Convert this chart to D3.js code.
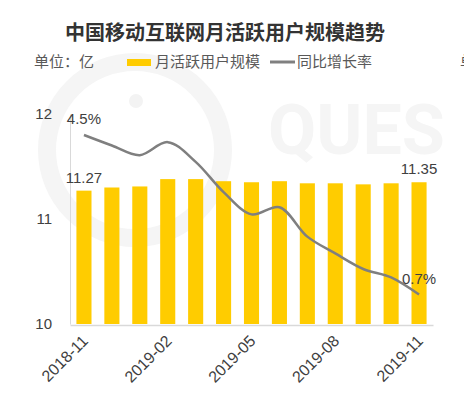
<!DOCTYPE html>
<html>
<head>
<meta charset="utf-8">
<script src="https://cdn.jsdelivr.net/npm/d3@7"></script>
<style>
  body { margin: 0; background: #fff; }
  svg { font-family: "Noto Sans CJK SC", "Noto Sans", sans-serif; }
</style>
</head>
<body>
<div id="chart"></div>
<script>
const months = ["2018-11","2018-12","2019-01","2019-02","2019-03","2019-04","2019-05",
                "2019-06","2019-07","2019-08","2019-09","2019-10","2019-11"];
const users = [11.27, 11.30, 11.31, 11.38, 11.38, 11.36, 11.35, 11.36, 11.34, 11.34, 11.33, 11.34, 11.35];
const growth = [4.5, 4.25, 4.02, 4.33, 3.86, 3.14, 2.61, 2.78, 2.08, 1.68, 1.31, 1.11, 0.7];
const shownMonths = ["2018-11","2019-02","2019-05","2019-08","2019-11"];
const yTicks = [10, 11, 12];

const width = 464, height = 395;
const plotLeft = 70, plotRight = 433, plotTop = 114, plotBottom = 324;

const svg = d3.select("#chart").append("svg")
  .attr("width", width)
  .attr("height", height);

// watermark
svg.append("circle")
  .attr("cx", 135).attr("cy", 150).attr("r", 88)
  .attr("fill", "none").attr("stroke", "#f5f5f5").attr("stroke-width", 18);
svg.append("circle")
  .attr("cx", 136).attr("cy", 101).attr("r", 7)
  .attr("fill", "#f3f3f3");
svg.append("text")
  .attr("x", 268).attr("y", 154)
  .style("font-family", "Roboto, sans-serif")
  .style("font-size", "70px")
  .style("font-weight", "bold")
  .attr("fill", "#f5f5f5")
  .text("QUES");

const x = d3.scaleBand()
  .domain(months)
  .range([plotLeft, plotRight])
  .paddingInner(0.46)
  .paddingOuter(0.23);

const y = d3.scaleLinear().domain([10, 12]).range([plotBottom, plotTop]);
const y2 = d3.scaleLinear().domain([0, 5]).range([plotBottom, plotTop]);

// title
svg.append("text")
  .attr("x", 225).attr("y", 40)
  .attr("text-anchor", "middle")
  .style("font-size", "20px")
  .style("font-weight", "bold")
  .attr("fill", "#333")
  .text("中国移动互联网月活跃用户规模趋势");

// legend
svg.append("text")
  .attr("x", 34).attr("y", 67)
  .style("font-size", "15px")
  .attr("fill", "#595959")
  .text("单位：亿");
svg.append("rect")
  .attr("x", 127).attr("y", 59).attr("width", 24).attr("height", 7)
  .attr("fill", "#ffcc00");
svg.append("text")
  .attr("x", 155).attr("y", 67)
  .style("font-size", "15px")
  .attr("fill", "#595959")
  .text("月活跃用户规模");
svg.append("line")
  .attr("x1", 270).attr("x2", 295).attr("y1", 62).attr("y2", 62)
  .attr("stroke", "#808080").attr("stroke-width", 3);
svg.append("text")
  .attr("x", 297).attr("y", 67)
  .style("font-size", "15px")
  .attr("fill", "#595959")
  .text("同比增长率");
svg.append("text")
  .attr("x", 460).attr("y", 67)
  .style("font-size", "15px")
  .attr("fill", "#595959")
  .text("单位");

// y axis
const yAxis = d3.axisLeft(y).tickValues(yTicks).tickFormat(d3.format("d")).tickSize(0).tickPadding(18);
const gy = svg.append("g")
  .attr("transform", `translate(${plotLeft},0)`)
  .call(yAxis);
gy.select(".domain").attr("stroke", "#d9d9d9");
gy.selectAll("text")
  .style("font-size", "15px")
  .style("font-family", "Liberation Sans, Arial, sans-serif")
  .attr("fill", "#404040");

// bars
svg.selectAll(".bar")
  .data(users)
  .enter()
  .append("rect")
  .attr("class", "bar")
  .attr("x", (d, i) => x(months[i]))
  .attr("y", d => y(d))
  .attr("width", x.bandwidth())
  .attr("height", d => y(10) - y(d))
  .attr("fill", "#ffcc00");

// x axis
const xAxis = d3.axisBottom(x).tickValues(shownMonths).tickSize(0).tickSizeOuter(0);
const gx = svg.append("g")
  .attr("transform", `translate(0,${plotBottom + 1})`)
  .call(xAxis);
gx.select(".domain").attr("stroke", "#d9d9d9").attr("stroke-width", 1.5);
gx.selectAll("text")
  .style("font-size", "16px")
  .style("font-family", "Liberation Sans, Arial, sans-serif")
  .attr("fill", "#404040")
  .attr("text-anchor", "end")
  .attr("y", 0)
  .attr("dy", 0)
  .attr("transform", "translate(5,17) rotate(-45)");

// growth line
const line = d3.line()
  .x((d, i) => x(months[i]) + x.bandwidth() / 2)
  .y(d => y2(d))
  .curve(d3.curveCatmullRom.alpha(0.5));

svg.append("path")
  .datum(growth)
  .attr("d", line)
  .attr("fill", "none")
  .attr("stroke", "#7f7f7f")
  .attr("stroke-width", 2.5);

// data labels
const labelStyle = sel => sel
  .style("font-size", "15px")
  .style("font-family", "Liberation Sans, Arial, sans-serif")
  .attr("fill", "#404040")
  .attr("text-anchor", "middle");

const last = months.length - 1;
svg.append("text").call(labelStyle)
  .attr("x", x(months[0]) + x.bandwidth() / 2)
  .attr("y", y2(growth[0]) - 11)
  .text(growth[0] + "%");
svg.append("text").call(labelStyle)
  .attr("x", x(months[0]) + x.bandwidth() / 2)
  .attr("y", y(users[0]) - 8)
  .text(users[0].toFixed(2));
svg.append("text").call(labelStyle)
  .attr("x", x(months[last]) + x.bandwidth() / 2)
  .attr("y", y(users[last]) - 8)
  .text(users[last].toFixed(2));
svg.append("text").call(labelStyle)
  .attr("x", x(months[last]) + x.bandwidth() / 2)
  .attr("y", y2(growth[last]) - 11)
  .text(growth[last] + "%");
</script>
</body>
</html>
